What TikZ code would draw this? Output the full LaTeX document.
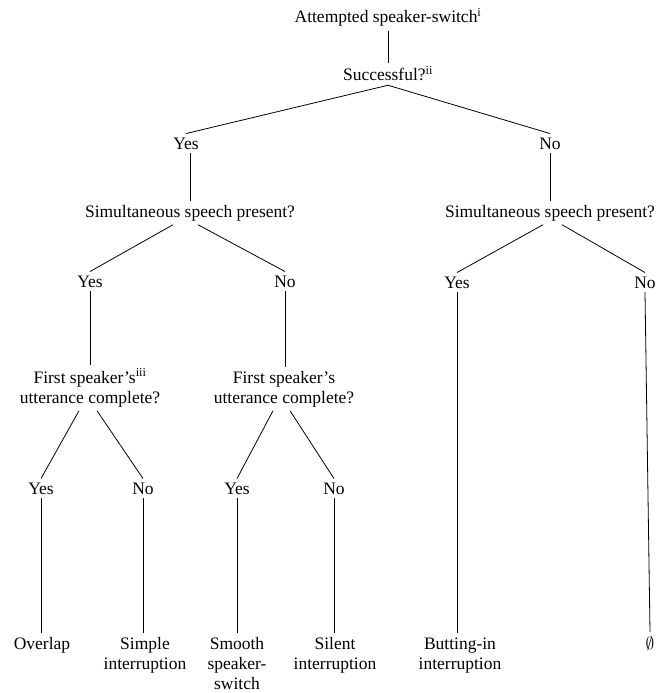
\documentclass[tikz,border=0pt]{standalone}
\usepackage{fontspec}
\setmainfont{Liberation Serif}
\usetikzlibrary{calc}
\tikzset{
  lbl/.style={anchor=base, inner sep=0pt, outer sep=4pt, align=center,
    font=\fontsize{17.5}{20}\selectfont},
  edge/.style={draw=black, line width=0.8pt}
}
\begin{document}
\begin{tikzpicture}[x=1pt,y=-1pt]
\useasboundingbox (0,0) rectangle (659,693);
% level 0
\node[lbl] (title) at (388,23) {Attempted speaker-switch\textsuperscript{i}};
\node[lbl] (succ) at (388,81) {Successful?\textsuperscript{ii}};
% level 1
\node[lbl] (yes1) at (186,149) {Yes};
\node[lbl] (no1) at (550,149) {No};
\node[lbl] (sspL) at (190,217) {Simultaneous speech present?};
\node[lbl] (sspR) at (550,217) {Simultaneous speech present?};
% level 2
\node[lbl] (yes2) at (90,287) {Yes};
\node[lbl] (no2) at (285,287) {No};
\node[lbl] (yes3) at (457,288) {Yes};
\node[lbl] (no3) at (645,288) {No};
% multi-line nodes: base anchor is the baseline of the last line
\node[lbl] (fsucL) at (90,403) {First speaker's\textsuperscript{iii}\\utterance complete?};
\node[lbl] (fsucR) at (284,403) {First speaker's\\utterance complete?};
% level 3
\node[lbl] (yes4) at (41,494) {Yes};
\node[lbl] (no4) at (143,494) {No};
\node[lbl] (yes5) at (237,494) {Yes};
\node[lbl] (no5) at (334,494) {No};
% leaves
\node[lbl] (overlap) at (42,649) {Overlap};
\node[lbl] (simple) at (145,669) {Simple\\interruption};
\node[lbl] (smooth) at (237,689) {Smooth\\speaker-\\switch};
\node[lbl] (silent) at (335,669) {Silent\\interruption};
\node[lbl] (butting) at (460,669) {Butting-in\\interruption};
\node[lbl] (empty) at (650,649) {$\emptyset$};
% connectors
\path[edge] (title.south -| succ.south) -- (succ.north -| succ.south);
\path[edge] (succ.south) -- (yes1.north);
\path[edge] (succ.south) -- (no1.north);
\path[edge] (yes1.south -| sspL.north) -- (sspL.north);
\path[edge] (no1.south) -- (no1.south |- sspR.north);
\path[edge] ($(sspL.south)+(-17,0)$) -- (yes2.north);
\path[edge] ($(sspL.south)+(8,0)$) -- (no2.north);
\path[edge] ($(sspR.south)+(-7,0)$) -- (yes3.north);
\path[edge] ($(sspR.south)+(12,0)$) -- (no3.north);
\path[edge] (yes2.south) -- (yes2.south |- fsucL.north);
\path[edge] (no2.south) -- (no2.south |- fsucR.north);
\path[edge] (yes3.south) -- (yes3.south |- butting.north);
\path[edge] (no3.south) -- (empty.north);
\path[edge] ($(fsucL.south)+(-11,0)$) -- (yes4.north);
\path[edge] ($(fsucL.south)+(7,0)$) -- (no4.north);
\path[edge] ($(fsucR.south)+(-11,0)$) -- (yes5.north);
\path[edge] ($(fsucR.south)+(6,0)$) -- (no5.north);
\path[edge] (yes4.south) -- (yes4.south |- overlap.north);
\path[edge] (no4.south) -- (no4.south |- simple.north);
\path[edge] (yes5.south) -- (yes5.south |- smooth.north);
\path[edge] (no5.south) -- (no5.south |- silent.north);
\end{tikzpicture}
\end{document}
